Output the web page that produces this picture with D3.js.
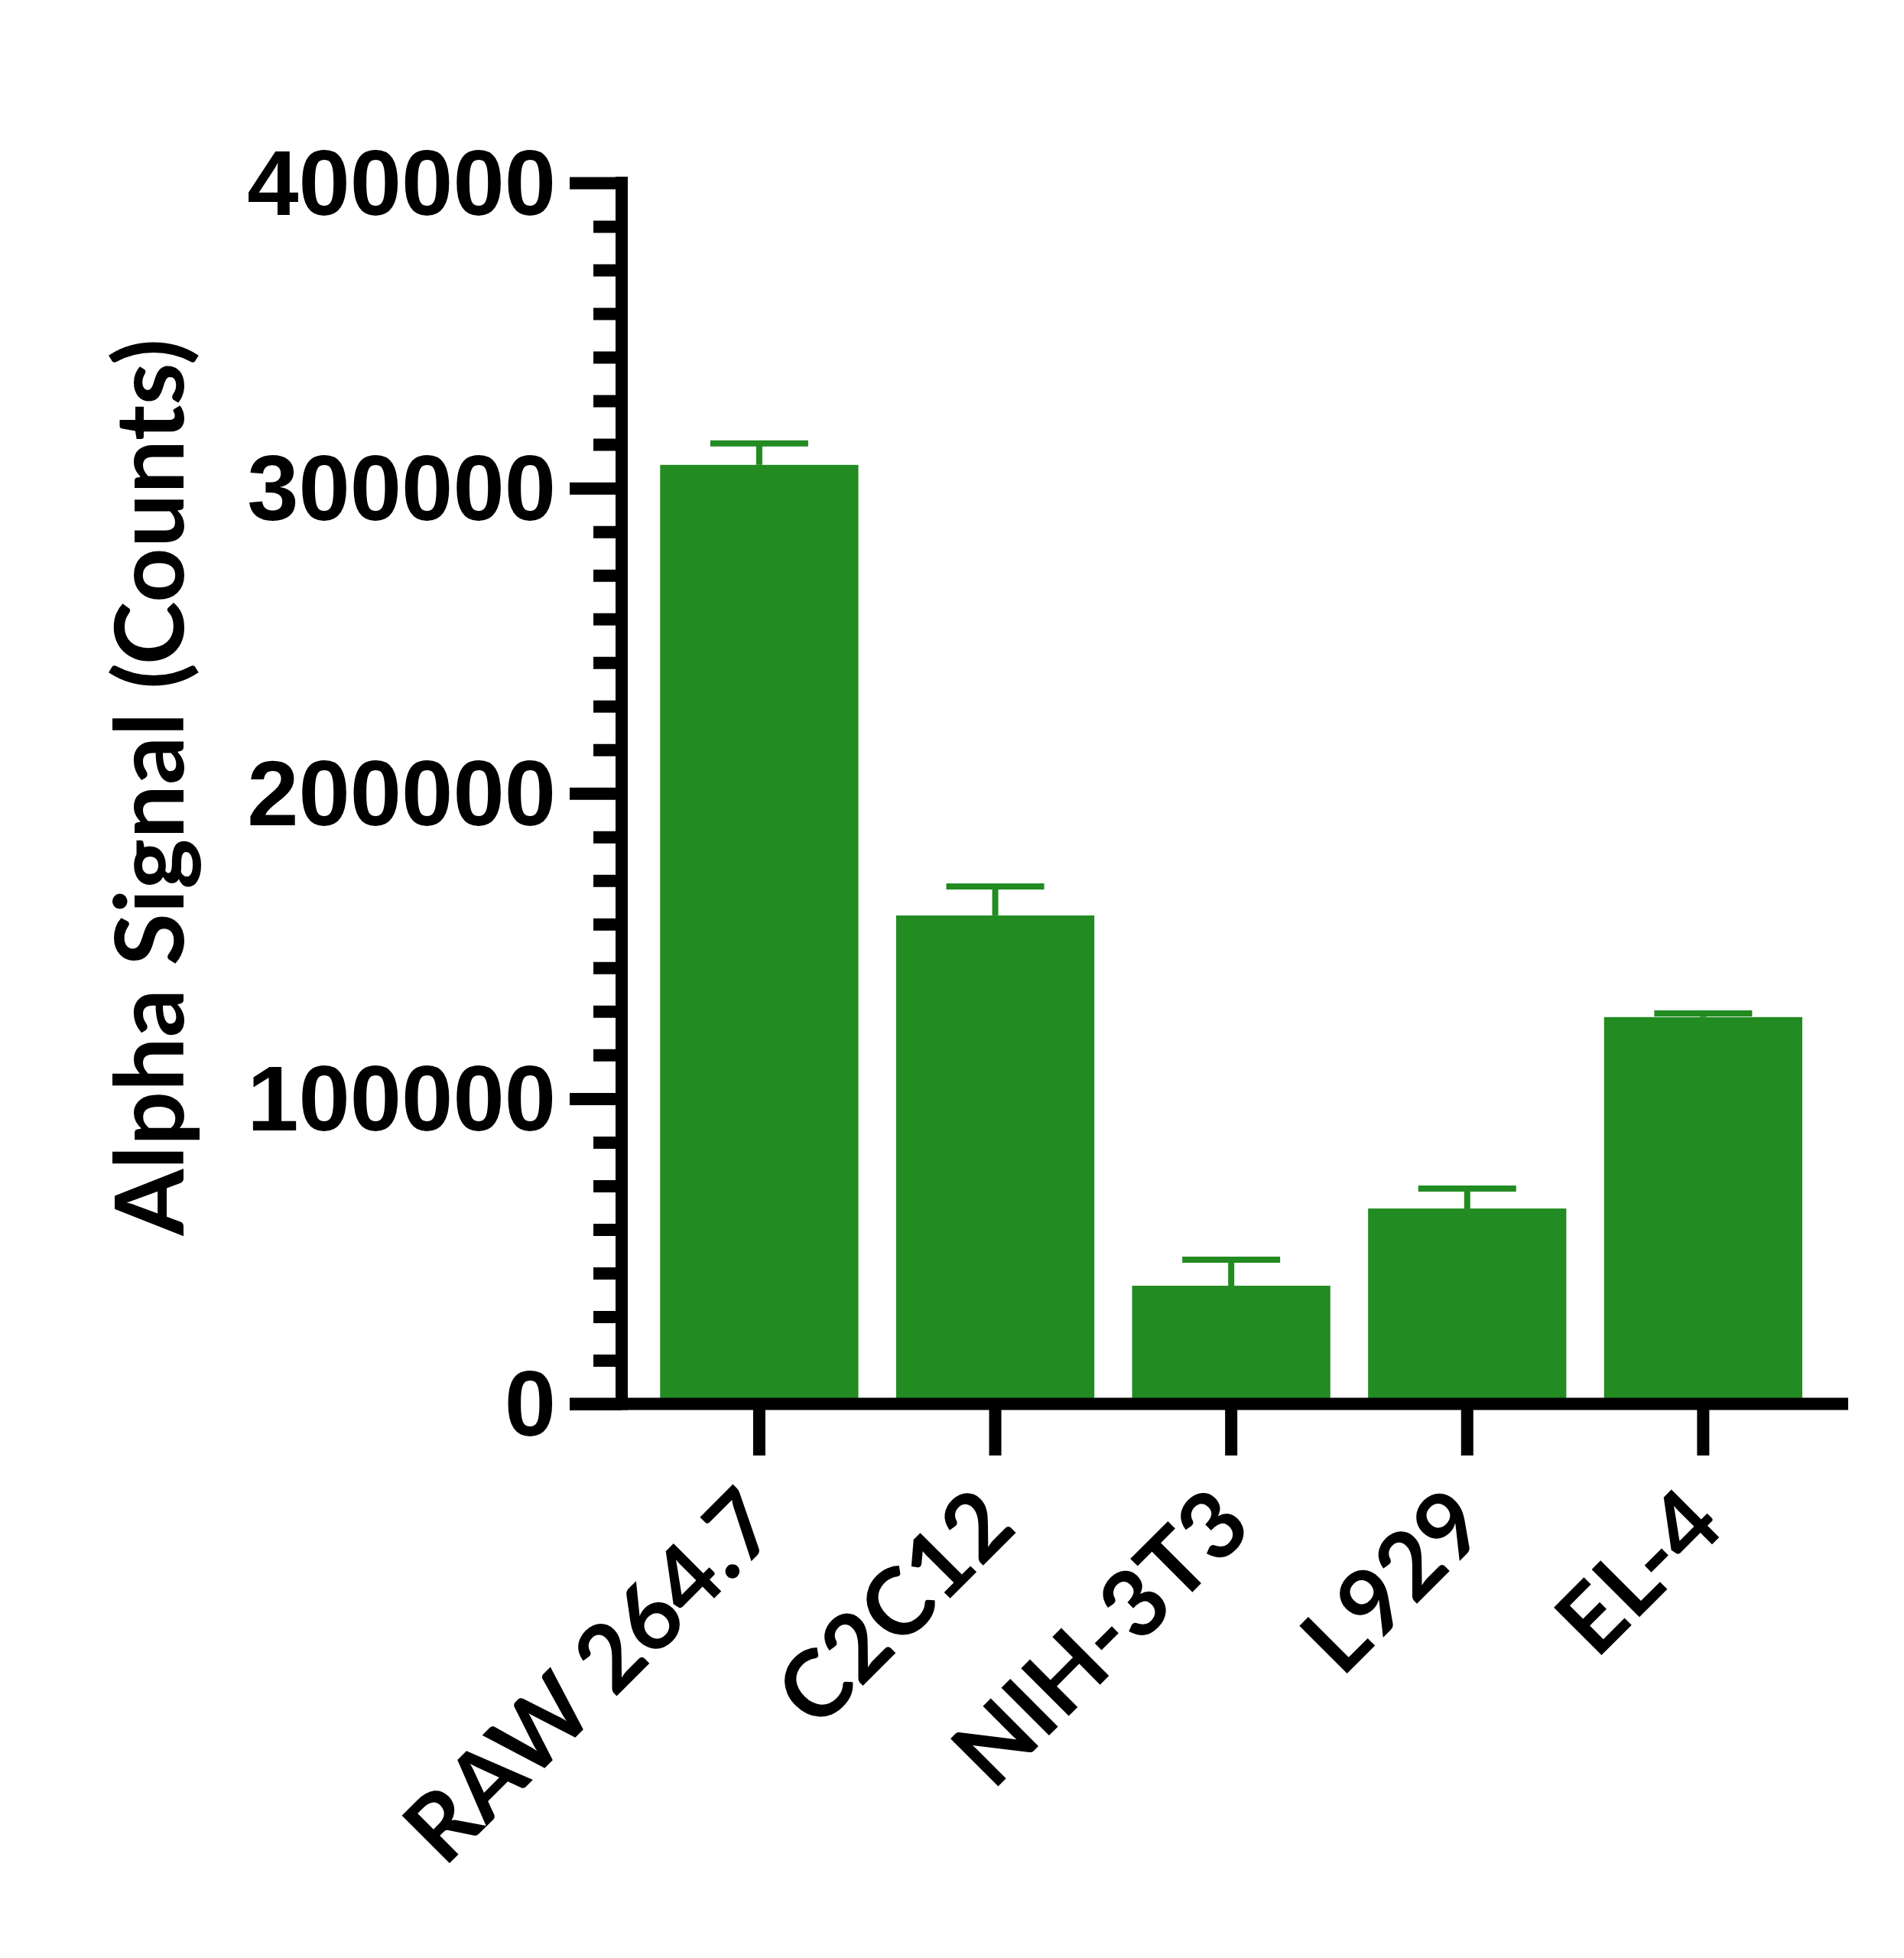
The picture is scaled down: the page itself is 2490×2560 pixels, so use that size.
<!DOCTYPE html>
<html>
<head>
<meta charset="utf-8">
<script src="https://cdn.jsdelivr.net/npm/d3@7"></script>
<style>
  html, body { margin: 0; padding: 0; background: #ffffff; }
  svg { display: block; }
</style>
</head>
<body>
<script>
// ---- Data ----
const categories = ["RAW 264.7", "C2C12", "NIH-3T3", "L929", "EL-4"];
const values = [307600, 160000, 38700, 64000, 126700];
const errors = [7000, 9500, 8500, 6500, 1200];
const yTickValues = [0, 100000, 200000, 300000, 400000];
const yTickLabels = ["0", "100000", "200000", "300000", "400000"];
const yTitle = "Alpha Signal (Counts)";

// ---- Layout ----
const W = 2490, H = 2560;
const green = "#228B22";
const axisX = 813;            // centre of y-axis line
const zeroY = 1835.5;         // centre of x-axis line
const topY = 239;             // 400000 tick
const lw = 16;                // axis stroke width

const svg = d3.select("body").append("svg")
  .attr("width", W).attr("height", H)
  .attr("viewBox", `0 0 ${W} ${H}`);
svg.append("rect").attr("width", W).attr("height", H).attr("fill", "#fff");

const y = d3.scaleLinear().domain([0, 400000]).range([zeroY, topY]);
const x = d3.scaleBand().domain(categories)
  .range([863.3, 2357]).paddingInner(0.16).paddingOuter(0);

// ---- Bars ----
svg.append("g").selectAll("rect").data(categories).join("rect")
  .attr("x", d => x(d))
  .attr("width", x.bandwidth())
  .attr("y", (d, i) => y(values[i]))
  .attr("height", (d, i) => zeroY - y(values[i]))
  .attr("fill", green);

// ---- Error bars (upper only) ----
const capW = 128, ew = 8;
const eg = svg.append("g").attr("stroke", green).attr("stroke-width", ew).attr("fill", "none");
categories.forEach((c, i) => {
  const cx = x(c) + x.bandwidth() / 2;
  const yTop = y(values[i] + errors[i]);
  eg.append("line").attr("x1", cx).attr("x2", cx).attr("y1", y(values[i])).attr("y2", yTop);
  eg.append("line").attr("x1", cx - capW / 2).attr("x2", cx + capW / 2).attr("y1", yTop).attr("y2", yTop);
});

// ---- Y axis: minor ticks (7 intervals per major) ----
const minorVals = [];
for (let k = 0; k < 28; k++) { if (k % 7 !== 0) minorVals.push(k * 100000 / 7); }
const yMinor = d3.axisLeft(y).tickValues(minorVals).tickSize(37).tickFormat("");
svg.append("g").attr("transform", `translate(${axisX},0)`).call(yMinor)
  .call(g => g.select(".domain").remove())
  .call(g => g.selectAll(".tick line").attr("stroke", "#000").attr("stroke-width", lw));

// ---- Y axis: major ticks + labels ----
const yAxis = d3.axisLeft(y).tickValues(yTickValues).tickSize(68).tickPadding(18)
  .tickFormat((d, i) => yTickLabels[i]);
svg.append("g").attr("transform", `translate(${axisX},0)`).call(yAxis)
  .call(g => g.select(".domain").remove())
  .call(g => g.selectAll(".tick line").attr("stroke", "#000").attr("stroke-width", lw))
  .call(g => g.selectAll(".tick text")
    .attr("font-family", "'Liberation Sans', Arial, Helvetica, sans-serif")
    .attr("font-weight", "bold").attr("font-size", 121).attr("fill", "#000")
    .attr("dy", "0.34em"));

// ---- X axis ----
const xAxis = d3.axisBottom(x).tickSize(67.5).tickFormat("");
svg.append("g").attr("transform", `translate(0,${zeroY})`).call(xAxis)
  .call(g => g.select(".domain").remove())
  .call(g => g.selectAll(".tick line").attr("stroke", "#000").attr("stroke-width", lw));

// axis lines
svg.append("line").attr("x1", axisX).attr("x2", axisX)
  .attr("y1", topY - lw / 2).attr("y2", zeroY + lw / 2)
  .attr("stroke", "#000").attr("stroke-width", lw);
svg.append("line").attr("x1", 745).attr("x2", 2417)
  .attr("y1", zeroY).attr("y2", zeroY)
  .attr("stroke", "#000").attr("stroke-width", lw);

// ---- X labels (rotated) ----
svg.append("g").selectAll("text").data(categories).join("text")
  .attr("transform", d => `translate(${x(d) + x.bandwidth() / 2 + 31},${2000}) rotate(-45)`)
  .attr("text-anchor", "end")
  .attr("font-family", "Lato, 'Noto Sans', sans-serif")
  .attr("font-weight", 700)
  .attr("font-size", 122)
  .attr("fill", "#000")
  .text(d => d);

// ---- Y title ----
svg.append("text")
  .attr("transform", `translate(240,${(zeroY + topY) / 2 - 8}) rotate(-90)`)
  .attr("text-anchor", "middle")
  .attr("font-family", "Lato, 'Noto Sans', sans-serif")
  .attr("font-weight", 700)
  .attr("font-size", 125)
  .attr("fill", "#000")
  .text(yTitle);
</script>
</body>
</html>
